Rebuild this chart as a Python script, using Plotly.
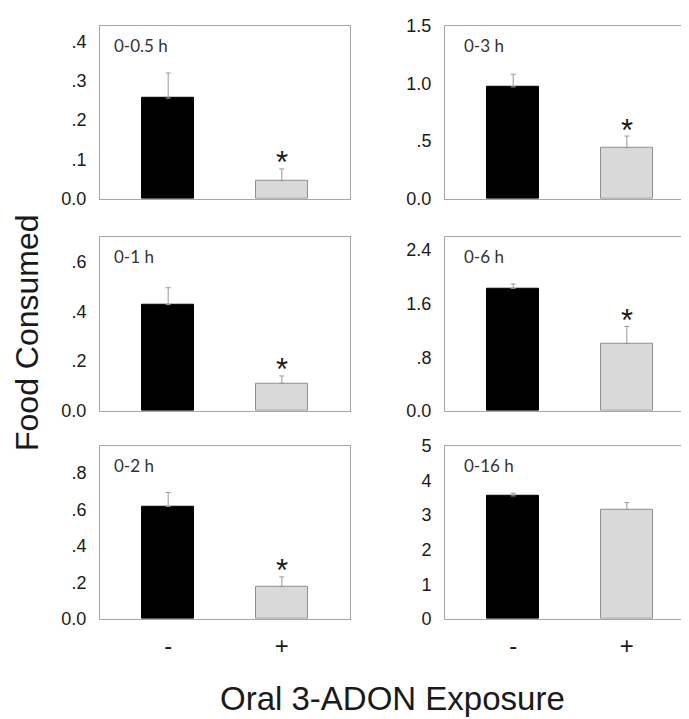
import plotly.graph_objects as go

# ---- data ----
panel_labels = ["0-0.5 h", "0-3 h", "0-1 h", "0-6 h", "0-2 h", "0-16 h"]
categories = ["-", "+"]
control_means = [0.256, 0.97, 0.427, 1.828, 0.617, 3.55]
control_sem = [0.064, 0.11, 0.068, 0.065, 0.076, 0.08]
treated_means = [0.046, 0.444, 0.110, 1.004, 0.177, 3.157]
treated_sem = [0.030, 0.100, 0.030, 0.256, 0.053, 0.20]
significant = [True, True, True, True, True, False]
y_max = [0.44, 1.5, 0.70, 2.6, 0.95, 5.0]
tick_vals = [
    [0, 0.1, 0.2, 0.3, 0.4],
    [0, 0.5, 1.0, 1.5],
    [0, 0.2, 0.4, 0.6],
    [0, 0.8, 1.6, 2.4],
    [0, 0.2, 0.4, 0.6, 0.8],
    [0, 1, 2, 3, 4, 5],
]
tick_text = [
    ["0.0", ".1", ".2", ".3", ".4"],
    ["0.0", ".5", "1.0", "1.5"],
    ["0.0", ".2", ".4", ".6"],
    ["0.0", ".8", "1.6", "2.4"],
    ["0.0", ".2", ".4", ".6", ".8"],
    ["0", "1", "2", "3", "4", "5"],
]
y_title = "Food Consumed"
x_title = "Oral 3-ADON Exposure"

# ---- layout geometry (pixels) ----
W, H = 689, 719
col_px = [(92, 342), (437, 687)]
row_px = [(8, 186), (225, 404), (440, 618)]

fig = go.Figure()
FONT = "Liberation Sans, Arial, sans-serif"
FRAME = "#a6a6a6"

layout = dict(
    width=W, height=H,
    margin=dict(l=0, r=0, t=0, b=0),
    paper_bgcolor="white", plot_bgcolor="white",
    showlegend=False,
    font=dict(family=FONT, color="#1a1a1a"),
    bargap=0,
)
annotations = []

for i in range(6):
    r, c = divmod(i, 2)
    n = i + 1
    xa = "x" if n == 1 else f"x{n}"
    ya = "y" if n == 1 else f"y{n}"
    x0, x1 = col_px[c]
    t0, t1 = row_px[r]
    fig.add_trace(go.Bar(
        x=categories,
        y=[control_means[i], treated_means[i]],
        width=0.46,
        marker=dict(color=["#000000", "#d9d9d9"],
                    line=dict(color=["#000000", "#8f8f8f"], width=1)),
        error_y=dict(type="data", symmetric=False,
                     array=[control_sem[i], treated_sem[i]],
                     arrayminus=[0, 0],
                     color="#999999", thickness=1, width=2.5),
        xaxis=xa, yaxis=ya,
    ))
    layout["xaxis" if n == 1 else f"xaxis{n}"] = dict(
        domain=[x0 / W, x1 / W],
        anchor=ya,
        type="category",
        categoryorder="array", categoryarray=categories,
        range=[-0.6, 1.6],
        showline=True, mirror=True, linecolor=FRAME, linewidth=1,
        showgrid=False, zeroline=False, ticks="",
        showticklabels=(r == 2),
        tickfont=dict(size=24, family=FONT, color="#1a1a1a"),
        ticklabelstandoff=5,
        fixedrange=True,
    )
    layout["yaxis" if n == 1 else f"yaxis{n}"] = dict(
        domain=[(H - t1) / H, (H - t0) / H],
        anchor=xa,
        range=[0, y_max[i]],
        tickvals=tick_vals[i], ticktext=tick_text[i],
        showline=True, mirror=True, linecolor=FRAME, linewidth=1,
        showgrid=False, zeroline=False, ticks="",
        tickfont=dict(size=18, family=FONT, color="#1a1a1a"),
        ticklabelstandoff=9,
        fixedrange=True,
    )
    annotations.append(dict(
        text=panel_labels[i], xref=f"{xa} domain", yref=f"{ya} domain",
        x=0, y=1, xanchor="left", yanchor="middle",
        xshift=12 if c == 0 else 17, yshift=-20, showarrow=False,
        font=dict(family="Lato, Open Sans, sans-serif", size=17, color="#333333"),
    ))
    if significant[i]:
        annotations.append(dict(
            text="*", xref=xa, yref=ya,
            x=categories[1], y=treated_means[i] + treated_sem[i],
            xanchor="center", yanchor="middle", yshift=6,
            showarrow=False,
            font=dict(family=FONT, size=31, color="#1a1a1a"),
        ))

annotations.append(dict(
    text=y_title, xref="paper", yref="paper",
    x=19 / W, y=1 - 324 / H, xanchor="center", yanchor="middle",
    textangle=-90, showarrow=False,
    font=dict(family=FONT, size=32, color="#1a1a1a"),
))
annotations.append(dict(
    text=x_title, xref="paper", yref="paper",
    x=384 / W, y=1 - 700 / H, xanchor="center", yanchor="middle",
    showarrow=False,
    font=dict(family=FONT, size=33, color="#1a1a1a"),
))
layout["annotations"] = annotations
fig.update_layout(**layout)
fig.write_html("out.html")
